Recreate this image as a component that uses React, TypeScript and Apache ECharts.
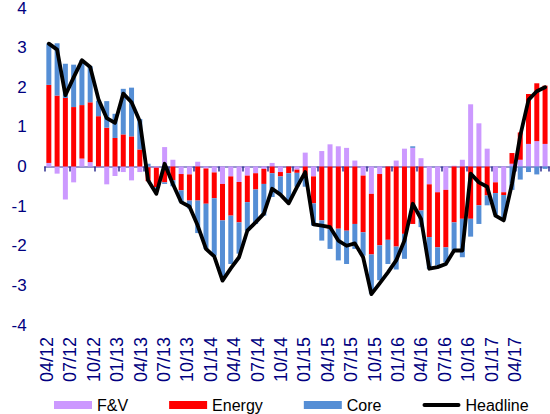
import React, { useEffect, useRef } from 'react';
import * as echarts from 'echarts';

const months = [
  '04/12','05/12','06/12','07/12','08/12','09/12','10/12','11/12','12/12',
  '01/13','02/13','03/13','04/13','05/13','06/13','07/13','08/13','09/13','10/13','11/13','12/13',
  '01/14','02/14','03/14','04/14','05/14','06/14','07/14','08/14','09/14','10/14','11/14','12/14',
  '01/15','02/15','03/15','04/15','05/15','06/15','07/15','08/15','09/15','10/15','11/15','12/15',
  '01/16','02/16','03/16','04/16','05/16','06/16','07/16','08/16','09/16','10/16','11/16','12/16',
  '01/17','02/17','03/17','04/17',
];

const tickLabels = [
  '04/12','07/12','10/12','01/13','04/13','07/13','10/13','01/14','04/14','07/14','10/14',
  '01/15','04/15','07/15','10/15','01/16','04/16','07/16','10/16','01/17','04/17',
];

const fvValues = [
  0.09, -0.18, -0.83, -0.40, 0.20, 0.11, -0.02, -0.45, -0.24, -0.14, -0.35, -0.14,
  -0.02, -0.03, 0.49, 0.17, -0.19, -0.20, 0.12, -0.05, -0.15, -0.44, -0.25, -0.39,
  -0.23, -0.17, -0.06, 0.09, -0.14, 0, -0.08, 0.35, -0.25, 0.39, 0.56, 0.51,
  0.47, 0.15, -0.23, -0.69, -0.19, 0, 0.15, 0.45, 0.47, 0.21, -0.45, -0.65,
  -0.59, 0.02, 0.17, 1.57, 1.09, 0.45, -0.40, -0.65, 0.07, 0.17, 0.57, 0.64, 0.57,
];

const energyValues = [
  1.97, 1.79, 1.73, 1.50, 1.35, 1.51, 1.27, 0.98, 0.72, 0.81, 0.76, 0.43,
  -0.35, -0.49, -0.40, -0.35, -0.41, -0.66, -0.86, -0.89, -0.65, -0.92, -0.99, -1.02,
  -0.67, -0.41, -0.38, -0.17, -0.11, -0.17, -0.08, -0.23, -0.68, -1.36, -1.57, -1.57,
  -1.62, -1.45, -1.43, -1.53, -1.80, -1.85, -2.02, -1.70, -1.45, -1.11, -1.33, -1.39,
  -1.45, -1.41, -1.32, -1.32, -0.98, -0.73, -0.27, -0.07, 0.27, 0.69, 1.26, 1.46, 1.47,
];

const coreValues = [
  1.04, 1.32, 0.86, 1.07, 1.14, 0.91, 0.39, 0.67, 0.61, 1.15, 1.23, 0.77,
  0.07, -0.10, -0.04, -0.15, -0.30, -0.20, -0.82, -1.14, -1.45, -1.50, -1.22, -0.79,
  -0.72, -0.87, -0.80, -0.60, -0.44, -0.74, -0.35, -0.28, -0.56, -0.51, -0.51, -0.80,
  -0.84, -0.63, -0.59, -0.99, -0.88, -0.61, -0.58, -0.63, 0.04, -0.42, -0.80, -0.46,
  -0.38, -0.71, -0.97, -0.45, -0.47, -0.25, -0.55, -0.62, -0.59, -0.33, -0.14, -0.20, -0.06,
];

const headlineValues = [
  3.10, 2.95, 1.80, 2.25, 2.68, 2.51, 1.70, 1.22, 1.10, 1.84, 1.62, 1.14,
  -0.35, -0.69, 0.07, -0.44, -0.90, -1.01, -1.49, -2.08, -2.27, -2.88, -2.57, -2.29,
  -1.62, -1.41, -1.19, -0.56, -0.71, -0.93, -0.52, -0.14, -1.46, -1.49, -1.53, -1.87,
  -2.00, -1.94, -2.29, -3.22, -2.95, -2.67, -2.37, -1.87, -0.94, -1.32, -2.58, -2.54,
  -2.46, -2.12, -2.12, -0.18, -0.40, -0.51, -1.24, -1.36, -0.44, 0.78, 1.68, 1.90, 2.00,
];

const NAVY = '#000080';
const FONT = '"Liberation Sans", Arial, sans-serif';
const LINE_ICON =
  'path://M0,0 L0.01,0 M0,8 L0.01,8 M2,2 L36,2 A2,2 0 0 1 36,6 L2,6 A2,2 0 0 1 2,2 Z';

export default function App() {
  const ref = useRef<HTMLDivElement>(null);

  useEffect(() => {
    document.body.style.margin = '0';
    const chart = echarts.init(ref.current!, null, { renderer: 'svg' });
    chart.setOption({
      animation: false,
      textStyle: { fontFamily: FONT },
      grid: [
        { left: 44.7, top: 8, width: 504.5, height: 317, containLabel: false, outerBoundsMode: 'none' },
        { left: 35.3, top: 8, width: 491.4, height: 317, containLabel: false, outerBoundsMode: 'none' },
      ],
      xAxis: [
        {
          type: 'category',
          gridIndex: 0,
          data: months,
          boundaryGap: true,
          axisLine: { onZero: true, lineStyle: { color: '#7474BC', width: 1.5 } },
          axisTick: { show: true, interval: 2, length: 5, lineStyle: { color: '#2E2E90', width: 1.5 } },
          axisLabel: { show: false },
          splitLine: { show: false },
        },
        {
          type: 'category',
          gridIndex: 1,
          data: tickLabels,
          position: 'bottom',
          boundaryGap: true,
          axisLine: { show: false },
          axisTick: { show: false },
          splitLine: { show: false },
          axisLabel: {
            interval: 0,
            rotate: 90,
            margin: 12,
            color: NAVY,
            fontSize: 18,
            fontFamily: FONT,
            hideOverlap: false,
            lineHeight: 16,
          },
        },
      ],
      yAxis: [
        {
          type: 'value',
          gridIndex: 0,
          min: -4,
          max: 4,
          interval: 1,
          axisLine: { show: false },
          axisTick: { show: false },
          splitLine: { show: false },
          axisLabel: { color: NAVY, fontSize: 17, margin: 18, fontFamily: FONT },
        },
        { type: 'value', gridIndex: 1, show: false, min: 0, max: 1 },
      ],
      legend: {
        left: 54,
        top: 397,
        padding: 0,
        itemWidth: 38,
        itemHeight: 8,
        itemGap: 41,
        textStyle: { fontSize: 16, color: '#000', fontFamily: FONT },
        data: [
          { name: 'F&V', icon: 'rect' },
          { name: 'Energy', icon: 'rect' },
          { name: 'Core', icon: 'rect' },
          { name: 'Headline', icon: LINE_ICON },
        ],
      },
      graphic: [
        {
          type: 'text',
          left: 461,
          top: -22,
          style: { text: '(y/y)', fontSize: 21, fontWeight: 'bold', fill: NAVY, fontFamily: FONT },
        },
      ],
      series: [
        { name: 'F&V', type: 'bar', stack: 'contrib', barWidth: 5, data: fvValues, itemStyle: { color: '#CC99FF' } },
        { name: 'Energy', type: 'bar', stack: 'contrib', barWidth: 5, data: energyValues, itemStyle: { color: '#FF0000' } },
        { name: 'Core', type: 'bar', stack: 'contrib', barWidth: 5, data: coreValues, itemStyle: { color: '#558ED5' } },
        {
          name: 'Headline',
          type: 'line',
          data: headlineValues,
          symbol: 'none',
          showSymbol: false,
          z: 5,
          lineStyle: { color: '#000', width: 3.8, join: 'round', cap: 'round' },
          itemStyle: { color: '#000' },
        },
      ],
    });
    return () => chart.dispose();
  }, []);

  return <div ref={ref} style={{ width: 550, height: 414 }} />;
}
